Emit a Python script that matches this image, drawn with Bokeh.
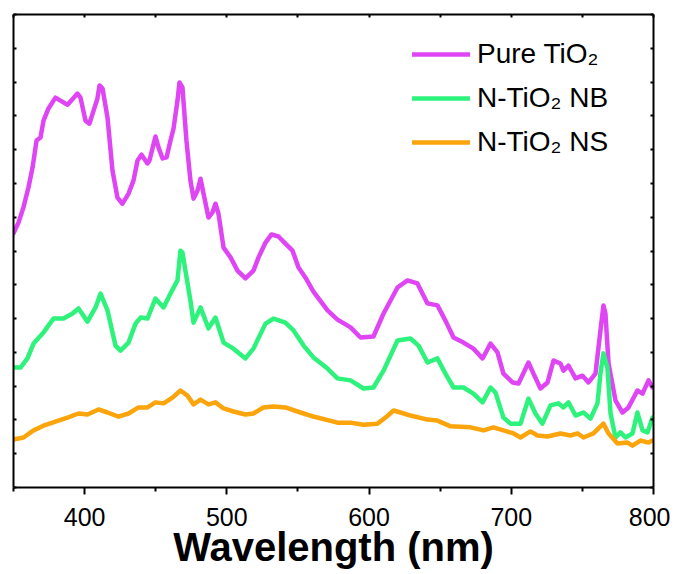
from bokeh.plotting import figure
from bokeh.models import Range1d, LinearAxis, FixedTicker, Legend, LegendItem
from bokeh.embed import file_html
from bokeh.resources import INLINE

# ---------------- data ----------------
wl_pure = [350, 353.5, 357, 360.5, 363.4, 366.2, 369, 371.1, 374.6, 379.5, 383, 388, 395, 397.1,
           400.6, 403.4, 409, 410.5, 412.6, 416.1, 419.6, 423.1, 426.6, 430.9, 434.4, 437.2, 440,
           444.2, 445.6, 449.8, 452, 454.8, 457.6, 460.4, 462.5, 465.3, 466.7, 468.8, 471.6, 474.4,
           476.6, 479.4, 481.5, 483.6, 487.1, 489.9, 492, 494.1, 497.7, 502.6, 507.5, 513.1, 518.7,
           522.3, 527.2, 531.4, 536.3, 541.2, 546.2, 550.4, 555.3, 560.9, 570.8, 577.8, 587, 594,
           603.1, 610.2, 620, 627, 634, 641, 648.1, 653.7, 659.4, 666.4, 673.4, 679.8, 685.4, 690.3,
           694.5, 700.9, 705.1, 712.1, 715.6, 720.5, 725.5, 729.7, 734.6, 736.7, 740.2, 745.2, 750.1,
           754.3, 759.2, 762.7, 764.8, 766.2, 768.4, 773.3, 778.2, 782.4, 788.7, 792.3, 796.5, 799.3]
int_pure = [7.52, 7.84, 8.29, 8.88, 9.47, 10.27, 10.36, 10.86, 11.22, 11.54, 11.45, 11.33, 11.66, 11.54,
            10.86, 10.77, 11.51, 11.90, 11.81, 10.95, 9.38, 8.58, 8.40, 8.70, 9.09, 9.68, 9.85,
            9.59, 9.68, 10.39, 10.06, 9.74, 9.77, 10.27, 10.62, 11.45, 11.99, 11.84, 10.27, 9.09,
            8.55, 8.79, 9.14, 8.70, 7.99, 8.14, 8.40, 8.11, 7.10, 6.81, 6.42, 6.19, 6.42,
            6.81, 7.25, 7.49, 7.43, 7.22, 7.01, 6.51, 6.21, 5.80, 5.24, 4.97, 4.74, 4.44,
            4.47, 5.15, 5.92, 6.13, 6.04, 5.45, 5.39, 4.94, 4.44, 4.29, 4.11, 3.82, 4.26, 4.00,
            3.37, 3.11, 3.08, 3.70, 3.37, 2.93, 3.11, 3.76, 3.67, 3.46, 3.61, 3.23, 3.31,
            3.11, 3.37, 4.65, 5.39, 5.15, 3.67, 2.57, 2.22, 2.37, 2.87, 2.78, 3.17, 2.96]

wl_nb = [350, 354.9, 359.8, 364.1, 371.1, 378.1, 385.2, 391.5, 395.7, 402, 407.7, 411.2, 416.1, 421.7,
         425.2, 430.9, 435.8, 439.3, 444.2, 449.8, 455.5, 460.4, 465.3, 467.4, 468.8, 474.4, 476.6,
         481.5, 487.1, 492, 497.7, 504.7, 513.1, 518.7, 527.2, 532.8, 541.2, 546.9, 554, 560.9,
         570.8, 577.8, 587, 596.1, 603.1, 610.2, 620, 629.1, 634.8, 641.1, 648.1, 653.7, 659.4,
         666.4, 673.4, 679.8, 685.4, 688.9, 694.5, 699.4, 706.5, 712.1, 717, 721.9, 727.6, 733.2,
         736.7, 740.2, 745.2, 750.8, 755.7, 760.6, 762.7, 764.8, 767.6, 769.8, 773.3, 776.8, 780.3,
         785.2, 788.7, 792.3, 795.8, 799.3]
int_nb = [3.55, 3.55, 3.82, 4.26, 4.59, 5.00, 5.00, 5.15, 5.30, 4.91, 5.33, 5.74, 5.24, 4.20,
          4.05, 4.29, 4.85, 5.03, 5.00, 5.59, 5.33, 5.74, 6.13, 7.01, 6.95, 5.53, 4.88,
          5.33, 4.71, 5.03, 4.29, 4.11, 3.82, 4.11, 4.85, 5.00, 4.88, 4.65, 4.20, 3.85,
          3.52, 3.23, 3.17, 2.93, 2.96, 3.46, 4.35, 4.41, 4.20, 3.70, 3.82, 3.37, 2.96,
          2.96, 2.78, 2.52, 2.96, 2.81, 2.07, 1.89, 1.89, 2.63, 2.19, 1.89, 2.43, 2.49,
          2.37, 2.52, 2.13, 2.22, 2.04, 2.49, 3.37, 3.97, 3.55, 2.19, 1.48, 1.63, 1.48,
          1.60, 2.22, 1.69, 1.63, 2.07]

wl_ns = [350, 357, 364.1, 371.1, 379.5, 388, 395.7, 402, 409.8, 416.1, 423.8, 430.9, 437.9, 444.2,
         449.8, 455.5, 461.8, 467.4, 472.3, 476.6, 481.5, 487.1, 492, 497.7, 504.7, 513.1, 518.7,
         525.8, 532.8, 541.2, 551.8, 560.9, 577.8, 587, 596.1, 605.9, 611.6, 617.2, 622.1, 629.1,
         641.1, 648.1, 657.3, 671.3, 680.5, 687.5, 694.5, 701.6, 706.5, 713.5, 718.4, 725.5, 734.6,
         741.6, 746.6, 750.8, 757.8, 762, 764.8, 768.4, 774.7, 781.7, 785.2, 790.8, 796.5, 799.3]
int_ns = [1.42, 1.48, 1.69, 1.83, 1.95, 2.07, 2.19, 2.16, 2.31, 2.22, 2.10, 2.19, 2.37, 2.37,
          2.52, 2.49, 2.66, 2.87, 2.72, 2.46, 2.60, 2.46, 2.52, 2.34, 2.25, 2.16, 2.19,
          2.37, 2.40, 2.37, 2.22, 2.10, 1.92, 1.92, 1.86, 1.89, 2.07, 2.28, 2.22, 2.13,
          2.01, 1.98, 1.81, 1.78, 1.69, 1.78, 1.69, 1.60, 1.48, 1.66, 1.54, 1.51, 1.60,
          1.54, 1.60, 1.48, 1.60, 1.78, 1.89, 1.60, 1.30, 1.33, 1.24, 1.39, 1.33, 1.39]

series_labels = ["Pure TiO\u2082", "N-TiO\u2082 NB", "N-TiO\u2082 NS"]
series_colors = ["#DF44F5", "#2DF27B", "#FBA40B"]

x_major = [400, 500, 600, 700, 800]
x_minor = [350, 450, 550, 650, 750]
y_ticks = list(range(0, 15))

FONT = "Liberation Sans"

# ---------------- figure ----------------
p = figure(width=670, height=572, output_backend="svg", toolbar_location=None,
           x_range=Range1d(350, 800), y_range=Range1d(0, 14),
           x_axis_location=None, y_axis_location=None,
           min_border_left=13, min_border_top=14, min_border_right=17, min_border_bottom=85)
p.xgrid.visible = False
p.ygrid.visible = False
p.outline_line_color = None
p.background_fill_color = "white"
p.border_fill_color = "white"

renderers = []
for xs, ys, c in [(wl_pure, int_pure, series_colors[0]),
                  (wl_nb, int_nb, series_colors[1]),
                  (wl_ns, int_ns, series_colors[2])]:
    r = p.line(xs, ys, line_color=c, line_width=4.5, line_join="round", line_cap="round")
    renderers.append(r)

def style_axis(ax):
    ax.axis_line_width = 2
    ax.axis_line_color = "black"
    ax.major_tick_line_width = 2
    ax.minor_tick_line_width = 2
    ax.major_tick_line_color = "black"
    ax.minor_tick_line_color = "black"

# bottom axis
xb = LinearAxis(ticker=FixedTicker(ticks=x_major, minor_ticks=x_minor))
style_axis(xb)
xb.major_tick_out = 7
xb.major_tick_in = 0
xb.minor_tick_out = 4
xb.minor_tick_in = 0
xb.major_label_text_font = FONT
xb.major_label_text_font_size = "25px"
xb.major_label_text_color = "black"
xb.major_label_standoff = 13
xb.axis_label = "Wavelength (nm)"
xb.axis_label_text_font = FONT
xb.axis_label_text_font_size = "40px"
xb.axis_label_text_font_style = "bold"
xb.axis_label_text_color = "black"
xb.axis_label_standoff = -4
p.add_layout(xb, "below")

# top axis
xt = LinearAxis(ticker=FixedTicker(ticks=x_major + x_minor, minor_ticks=[]))
style_axis(xt)
xt.major_tick_out = 0
xt.major_tick_in = 3
xt.major_label_text_font_size = "0px"
xt.major_label_text_alpha = 0
xt.major_label_standoff = 0
p.add_layout(xt, "above")

# left axis
yl = LinearAxis(ticker=FixedTicker(ticks=y_ticks, minor_ticks=[]))
style_axis(yl)
yl.major_tick_out = 0
yl.major_tick_in = 3
yl.major_label_text_font_size = "0px"
yl.major_label_text_alpha = 0
yl.major_label_standoff = 0
p.add_layout(yl, "left")

# right axis
yr = LinearAxis(ticker=FixedTicker(ticks=y_ticks, minor_ticks=[]))
style_axis(yr)
yr.major_tick_out = 0
yr.major_tick_in = 3
yr.major_label_text_font_size = "0px"
yr.major_label_text_alpha = 0
yr.major_label_standoff = 0
p.add_layout(yr, "right")

# legend
legend = Legend(items=[LegendItem(label=lab, renderers=[r]) for lab, r in zip(series_labels, renderers)],
                location=(399, 325))
legend.label_text_font = FONT
legend.label_text_font_size = "28px"
legend.label_text_color = "black"
legend.glyph_width = 58
legend.glyph_height = 40
legend.label_height = 40
legend.label_standoff = 7
legend.spacing = 4
legend.padding = 0
legend.margin = 0
legend.border_line_color = None
legend.background_fill_alpha = 0
p.add_layout(legend)

open("out.html", "w").write(file_html(p, INLINE))
